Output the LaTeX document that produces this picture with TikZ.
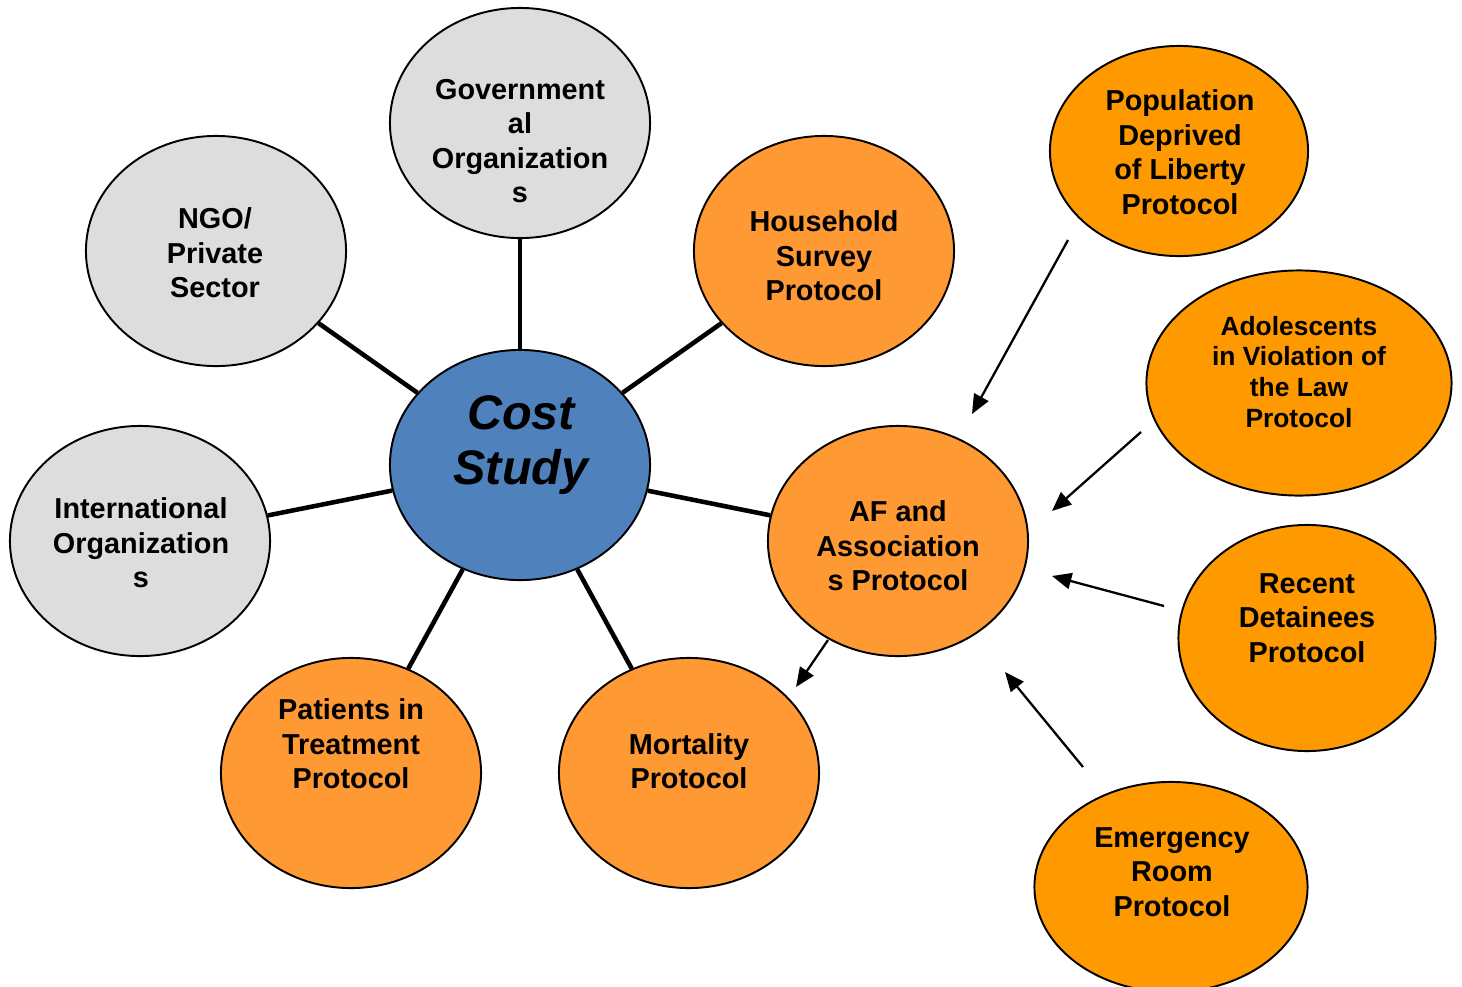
\documentclass[tikz,border=0pt]{standalone}
\usepackage{fontspec}
\setmainfont{Liberation Sans}
\usetikzlibrary{shapes.geometric,arrows.meta}
\definecolor{costblue}{HTML}{4F81BD}
\definecolor{orgrey}{HTML}{DDDDDD}
\definecolor{lightorange}{HTML}{FF9933}
\definecolor{deeporange}{HTML}{FF9900}
\begin{document}
\begin{tikzpicture}[x=0.01cm,y=-0.01cm,
  bubble/.style={ellipse,draw=black,line width=0.55pt,inner sep=0pt,
    minimum width=2.6cm,minimum height=2.3cm},
  grey/.style={bubble,fill=orgrey},
  lorange/.style={bubble,fill=lightorange},
  dorange/.style={bubble,fill=deeporange},
  lbl/.style={align=center,font=\bfseries\fontsize{8.2}{9.8}\selectfont},
  small/.style={align=center,font=\bfseries\fontsize{7.5}{8.8}\selectfont},
  spoke/.style={line width=1.3pt},
  feed/.style={line width=0.65pt,-{Triangle[length=5.5pt,width=4.6pt]}}
]
\useasboundingbox (0,0) rectangle (1462,987);

% bubbles
\node[bubble,fill=costblue] (cost) at (520,465) {};
\node[grey] (gov) at (520,123) {};
\node[grey] (ngo) at (216,251) {};
\node[grey] (intl) at (140,541) {};
\node[lorange] (house) at (824,251) {};
\node[lorange] (pat) at (351,773) {};
\node[lorange] (mort) at (689,773) {};
\node[lorange] (af) at (898,541) {};
\node[dorange,minimum width=2.58cm,minimum height=2.1cm] (pop) at (1179,151) {};
\node[dorange,minimum width=3.05cm,minimum height=2.25cm] (adol) at (1299,383) {};
\node[dorange,minimum width=2.57cm,minimum height=2.26cm] (rec) at (1307,638) {};
\node[dorange,minimum width=2.73cm,minimum height=2.1cm] (er) at (1171,887) {};

% spokes from the centre
\foreach \n in {gov,ngo,intl,house,pat,mort,af}
  \draw[spoke] (cost) -- (\n);

% texts
\node[align=center,font=\bfseries\itshape\fontsize{13.8}{15.6}\selectfont] (cost-t) at (521,445) {Cost\\Study};
\node[lbl] (gov-t) at (520,141) {Government\\al\\Organization\\s};
\node[lbl] (ngo-t) at (215,253) {NGO/\\Private\\Sector};
\node[lbl] (intl-t) at (141,543) {International\\Organization\\s};
\node[lbl] (house-t) at (824,256) {Household\\Survey\\Protocol};
\node[lbl] (pat-t) at (351,744) {Patients in\\Treatment\\Protocol};
\node[lbl] (mort-t) at (689,761) {Mortality\\Protocol};
\node[lbl] (af-t) at (898,546) {AF and\\Association\\s Protocol};
\node[lbl] (pop-t) at (1180,152) {Population\\Deprived\\of Liberty\\Protocol};
\node[small] (adol-t) at (1299,372) {Adolescents\\in Violation of\\the Law\\Protocol};
\node[lbl] (rec-t) at (1307,618) {Recent\\Detainees\\Protocol};
\node[lbl] (er-t) at (1172,872) {Emergency\\Room\\Protocol};

% feeder arrows
\coordinate (pop-out) at (1068,240);  \coordinate (af-in1) at (972,414);
\coordinate (adol-out) at (1141,432); \coordinate (af-in2) at (1052,511);
\coordinate (rec-out) at (1164,606);  \coordinate (af-in3) at (1052,576);
\coordinate (er-out) at (1083,767);   \coordinate (af-in4) at (1005,672);
\coordinate (af-out) at (828,640);    \coordinate (mort-in) at (796,687);
\draw[feed] (pop-out) -- (af-in1);
\draw[feed] (adol-out) -- (af-in2);
\draw[feed] (rec-out) -- (af-in3);
\draw[feed] (er-out) -- (af-in4);
\draw[feed] (af-out) -- (mort-in);
\end{tikzpicture}
\end{document}
